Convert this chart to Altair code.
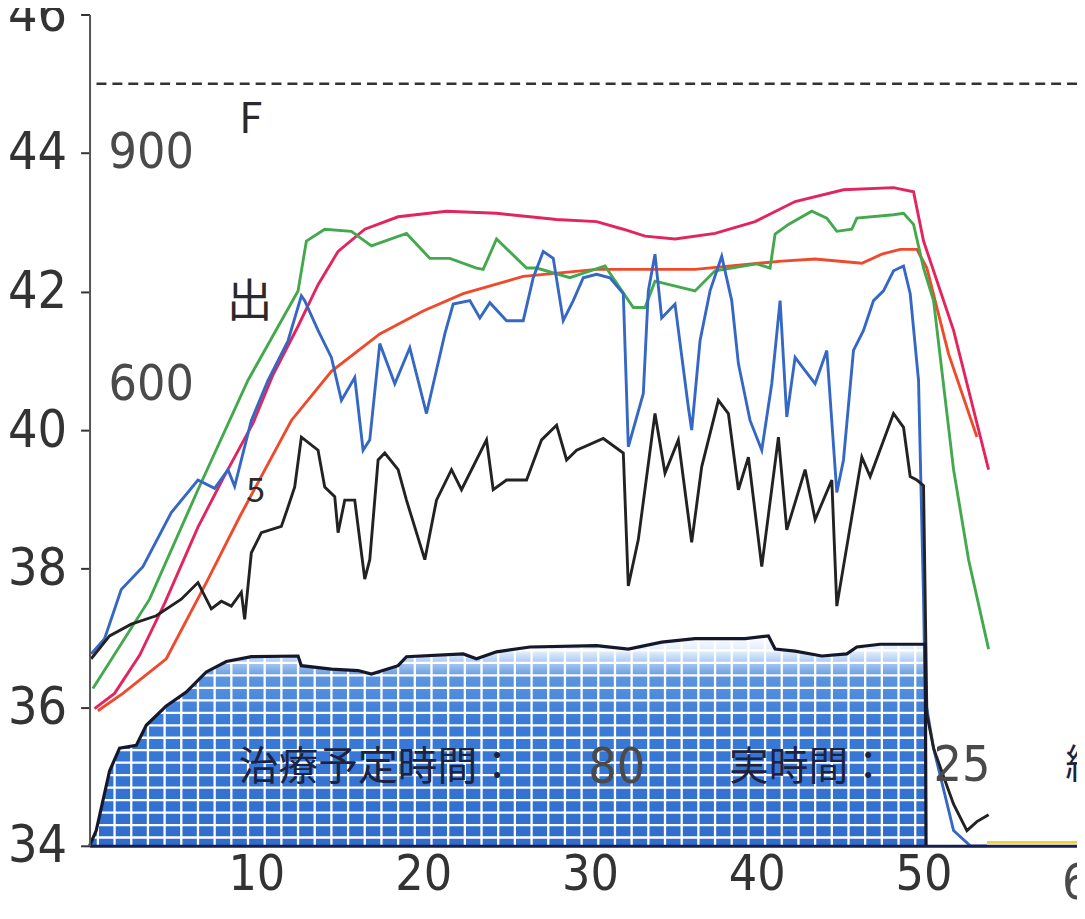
import altair as alt
import pandas as pd
import numpy as np

X_MAX = 59.2
W, H = 993, 836
NUM_FONT = "'Liberation Sans Narrow', 'DejaVu Sans Condensed', 'Liberation Sans', sans-serif"
CJK_FONT = "'Noto Sans CJK JP', sans-serif"

# ---------------- data ----------------
pink_t = [0.3, 1.5, 3.0, 4.5, 6.5, 8.0, 9.8, 11.0, 12.5, 13.7, 14.9, 16.5, 18.5, 21.4, 24.4, 28.0,
          30.4, 32.0, 33.3, 35.1, 37.5, 39.9, 42.3, 45.2, 48.2, 49.4, 50.0, 51.8, 53.9]
pink_v = [35.98, 36.2, 36.75, 37.5, 38.6, 39.3, 40.1, 40.8, 41.5, 42.1, 42.58, 42.9, 43.08, 43.16, 43.13, 43.04,
          43.01, 42.9, 42.80, 42.76, 42.84, 43.01, 43.30, 43.47, 43.50, 43.44, 42.73, 41.44, 39.43]

red_t = [0.5, 2.0, 4.6, 7.0, 9.0, 12.1, 14.5, 17.4, 20.0, 22.4, 26.0, 30.4, 36.3, 41.5, 43.5, 46.3,
         47.5, 48.6, 49.6, 50.2, 51.5, 53.2]
red_v = [35.95, 36.2, 36.7, 37.8, 38.75, 40.14, 40.85, 41.39, 41.72, 41.97, 42.22, 42.32, 42.32, 42.44, 42.47, 42.41,
         42.54, 42.61, 42.61, 42.34, 41.1, 39.9]

green_t = [0.2, 3.6, 6.5, 9.5, 12.5, 13.0, 14.1, 15.7, 16.9, 19.0, 20.4, 21.6, 23.2, 23.6, 24.4, 26.2,
           26.8, 28.8, 30.9, 32.6, 33.3, 33.9, 36.3, 37.5, 40.0, 40.8, 41.1, 41.9, 43.3, 44.2, 44.8,
           45.7, 46.0, 48.2, 48.8, 49.4, 50.0, 50.6, 51.8, 52.7, 53.9]
green_v = [36.27, 37.56, 39.14, 40.72, 42.01, 42.73, 42.9, 42.87, 42.66, 42.84, 42.48, 42.48, 42.34, 42.32, 42.76, 42.34,
           42.34, 42.20, 42.37, 41.77, 41.77, 42.15, 42.01, 42.30, 42.40, 42.34, 42.83, 42.97, 43.16, 43.06, 42.87,
           42.90, 43.06, 43.11, 43.13, 42.97, 42.34, 41.87, 39.43, 38.13, 36.84]

blue_t = [0.1, 0.9, 1.9, 3.2, 4.9, 6.5, 7.5, 8.3, 8.7, 9.1, 9.7, 10.7, 11.9, 12.7, 12.9, 13.7, 14.5, 15.1,
          15.9, 16.4, 16.8, 17.4, 18.3, 19.2, 20.2, 21.3, 21.8, 22.8, 23.4, 24.0, 25.0, 26.0, 26.6, 27.2,
          27.8, 28.4, 29.0, 29.6, 30.4, 31.2, 32.0, 32.3, 33.2, 33.5, 33.9, 34.3, 35.1, 35.9, 36.1, 36.6,
          37.2, 37.9, 38.5, 38.9, 39.6, 40.3, 40.9, 41.4, 41.8, 42.3, 42.9, 43.5, 44.2, 44.8, 45.2, 45.8,
          46.4, 47.0, 47.6, 48.2, 48.8, 49.2, 49.7, 50.0, 50.1, 50.6, 51.8, 52.8, 53.8]
blue_v = [36.77, 36.99, 37.70, 38.03, 38.81, 39.28, 39.16, 39.43, 39.19, 39.57, 40.14, 40.72, 41.29, 41.94, 41.87, 41.44, 41.05, 40.43,
          40.76, 39.71, 39.86, 41.25, 40.67, 41.19, 40.24, 41.39, 41.82, 41.87, 41.62, 41.84, 41.58, 41.58, 42.2, 42.58,
          42.48, 41.58, 41.87, 42.2, 42.25, 42.2, 41.97, 39.76, 40.53, 42.01, 42.54, 41.62, 41.82, 40.33, 40.0, 41.29,
          42.01, 42.51, 41.87, 40.96, 40.14, 39.71, 40.67, 41.87, 40.19, 41.05, 40.86, 40.67, 41.15, 39.10, 39.57, 41.15,
          41.44, 41.87, 42.01, 42.30, 42.37, 41.97, 40.72, 37.56, 36.12, 35.41, 34.22, 34.0, 34.0]

black_t = [0.1, 1.2, 2.5, 4.0, 5.5, 6.5, 7.3, 7.9, 8.5, 9.1, 9.3, 9.7, 10.3, 11.5, 11.9, 12.3, 12.7, 13.7,
           14.1, 14.7, 14.9, 15.3, 15.9, 16.5, 16.8, 17.3, 17.7, 18.5, 19.0, 20.1, 20.8, 21.7, 22.3, 23.8,
           24.2, 25.0, 26.2, 27.1, 28.0, 28.6, 29.2, 30.8, 32.0, 32.3, 32.9, 33.9, 34.5, 35.3, 36.1, 36.7,
           37.7, 38.3, 38.9, 39.5, 40.3, 41.3, 41.8, 42.9, 43.5, 44.5, 44.8, 45.7, 46.3, 46.8, 48.2, 48.8,
           49.2, 49.6, 50.0, 50.2, 50.6, 51.2, 51.8, 52.6, 53.2, 53.9]
black_v = [36.70, 37.03, 37.2, 37.32, 37.56, 37.80, 37.42, 37.53, 37.46, 37.66, 37.27, 38.23, 38.52, 38.61, 38.89, 39.18, 39.90, 39.71,
           39.18, 39.04, 38.52, 38.99, 38.99, 37.85, 38.13, 39.57, 39.67, 39.43, 38.99, 38.13, 38.99, 39.43, 39.14, 39.86,
           39.14, 39.28, 39.28, 39.86, 40.07, 39.57, 39.71, 39.88, 39.67, 37.75, 38.42, 40.24, 39.38, 39.86, 38.38, 39.47,
           40.43, 40.24, 39.14, 39.61, 38.03, 39.90, 38.56, 39.43, 38.71, 39.28, 37.46, 38.75, 39.61, 39.33, 40.24, 40.04,
           39.33, 39.28, 39.2, 35.9, 35.41, 35.0, 34.6, 34.22, 34.35, 34.45]

yellow_t = [53.8, 59.2]
yellow_v = [34.05, 34.05]

power_t = [0.0, 0.4, 1.2, 1.8, 2.8, 3.4, 4.6, 5.8, 7.0, 8.2, 9.7, 12.5, 12.7, 14.5, 16.1, 16.9, 18.5, 19.0,
           22.4, 23.2, 24.4, 26.4, 30.4, 32.3, 34.3, 36.3, 39.3, 40.7, 41.1, 42.3, 43.9, 45.4, 46.0, 47.4,
           49.8, 50.1, 50.15]
power_v = [34.0, 34.22, 35.08, 35.41, 35.45, 35.74, 36.02, 36.22, 36.51, 36.66, 36.73, 36.74, 36.60, 36.55, 36.53, 36.48, 36.60, 36.73,
           36.77, 36.70, 36.80, 36.87, 36.89, 36.84, 36.94, 36.99, 36.99, 37.03, 36.84, 36.81, 36.74, 36.77, 36.87, 36.91,
           36.91, 36.91, 34.0]

limit_value = [45.0]

series_names = ["yellow", "red", "pink", "green", "blue", "black"]
series_colors = ["#f2d028", "#ef4a2c", "#e2245f", "#43a84e", "#3567c4", "#222222"]

y_ticks = [34, 36, 38, 40, 42, 44, 46]
x_ticks = [10, 20, 30, 40, 50]

num_labels = ["900", "600", "80", "25", "60"]
num_t = [3.7, 3.7, 31.6, 52.3, 60.0]
num_v = [44.0, 40.65, 35.12, 35.15, 33.45]

cjk_labels = ["治療予定時間：", "実時間：", "約"]
cjk_t = [8.94, 38.34, 58.5]
cjk_v = [35.12, 35.12, 35.15]

mark_labels = ["F", "出", "5"]
mark_t = [9.66, 9.6, 9.96]
mark_v = [44.48, 41.84, 39.1]

# ---------------- frames ----------------
def frame(name, ts, vs):
    return pd.DataFrame({"t": ts, "v": vs, "s": name, "o": list(range(len(ts)))})

lines_df = pd.concat([
    frame("yellow", yellow_t, yellow_v),
    frame("red", red_t, red_v),
    frame("pink", pink_t, pink_v),
    frame("green", green_t, green_v),
    frame("blue", blue_t, blue_v),
    frame("black", black_t, black_v),
], ignore_index=True)

power_df = pd.DataFrame({"t": power_t, "v": power_v})

# white cell pattern of the filled power area
grid_h = pd.DataFrame({"gy": np.round(np.arange(34.12, 37.1, 0.18), 3), "a": 0.0, "b": 50.1})
grid_v = pd.DataFrame({"gx": np.arange(0.5, 50.1, 1.0), "a": 34.0, "b": 37.15})

xs = alt.Scale(domain=[0, X_MAX], nice=False, zero=False)
ys = alt.Scale(domain=[34, 46], nice=False, zero=False)

x_axis = alt.Axis(
    values=x_ticks, title=None, grid=False, ticks=False, labelFont=NUM_FONT, labelFontSize=50,
    labelColor="#333333", labelPadding=4, domainColor="#1a1f4a", domainWidth=3, zindex=1,
    labelFlush=False, labelOverlap=False)
y_axis = alt.Axis(
    values=y_ticks, title=None, grid=False, tickSize=9, tickWidth=2, tickColor="#333333",
    labelFont=NUM_FONT, labelFontSize=52, labelColor="#333333", labelPadding=14,
    domainColor="#555555", domainWidth=2, zindex=1, labelFlush=False, labelOverlap=False)


def X(f):
    return alt.X(f, scale=xs, axis=x_axis, title=None)


def Y(f):
    return alt.Y(f, scale=ys, axis=y_axis, title=None)


fill_gradient = alt.Gradient(
    gradient="linear", x1=0, x2=0, y1=0, y2=1,
    stops=[
        alt.GradientStop(color="#ffffff", offset=0.0),
        alt.GradientStop(color="#dceafa", offset=0.08),
        alt.GradientStop(color="#5b94e0", offset=0.2),
        alt.GradientStop(color="#3b7bd8", offset=0.4),
        alt.GradientStop(color="#2f6ccc", offset=1.0),
    ],
)

area_layer = alt.Chart(power_df).mark_area(color=fill_gradient, interpolate="linear").encode(
    x=X("t:Q"), y=Y("v:Q"), y2=alt.datum(34))

grid_h_layer = alt.Chart(grid_h).mark_rule(color="white", strokeWidth=2.3).encode(
    y=Y("gy:Q"), x=X("a:Q"), x2="b:Q")
grid_v_layer = alt.Chart(grid_v).mark_rule(color="white", strokeWidth=2.3).encode(
    x=X("gx:Q"), y=Y("a:Q"), y2="b:Q")

limit_layer = alt.Chart(pd.DataFrame({"v": limit_value})).mark_rule(
    color="#333333", strokeDash=[10, 6], strokeWidth=2.6).encode(y=Y("v:Q"))

line_layer = alt.Chart(lines_df).mark_line(strokeWidth=2.9, interpolate="linear").encode(
    x=X("t:Q"), y=Y("v:Q"),
    color=alt.Color("s:N", scale=alt.Scale(domain=series_names, range=series_colors), legend=None),
    order="o:Q",
)

power_line = alt.Chart(power_df).mark_line(color="#15182a", strokeWidth=3.2).encode(
    x=X("t:Q"), y=Y("v:Q"))

num_df = pd.DataFrame({"txt": num_labels, "t": num_t, "v": num_v})
num_layer = alt.Chart(num_df).mark_text(font=NUM_FONT, fontSize=50, color="#4a4a4a",
                                        align="center", baseline="middle").encode(
    x=X("t:Q"), y=Y("v:Q"), text="txt:N")

cjk_df = pd.DataFrame({"txt": cjk_labels, "t": cjk_t, "v": cjk_v})
cjk_layer = alt.Chart(cjk_df).mark_text(font=CJK_FONT, fontSize=40, color="#1b2340",
                                        align="left", baseline="middle").encode(
    x=X("t:Q"), y=Y("v:Q"), text="txt:N")

mark_df = pd.DataFrame({"txt": mark_labels, "t": mark_t, "v": mark_v, "fs": [42, 46, 34]})
mark_layer = alt.Chart(mark_df).mark_text(font=CJK_FONT, color="#2a2a2a",
                                          align="center", baseline="middle").encode(
    x=X("t:Q"), y=Y("v:Q"), text="txt:N",
    size=alt.Size("fs:Q", scale=None, legend=None))

chart = alt.layer(
    area_layer, grid_h_layer, grid_v_layer, limit_layer, line_layer, power_line,
    num_layer, cjk_layer, mark_layer,
).properties(
    width=W, height=H,
    autosize=alt.AutoSizeParams(type="none"),
    padding={"left": 82, "top": 4, "right": 0, "bottom": 58},
    background="white",
).configure_view(stroke=None)

chart.save("out.html", embed_options={"renderer": "svg", "actions": False})
